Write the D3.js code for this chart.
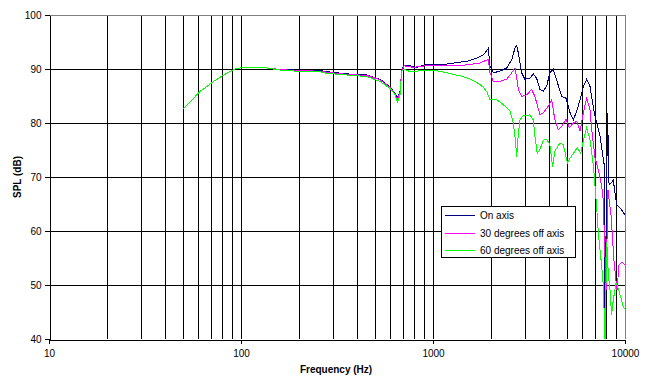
<!DOCTYPE html>
<html>
<head>
<meta charset="utf-8">
<script src="https://cdn.jsdelivr.net/npm/d3@7"></script>
<style>
  body { margin: 0; background: #fff; }
  svg text { font-family: "Liberation Sans Narrow", "Arial Narrow", "Liberation Sans", Arial, sans-serif; font-size: 10px; fill: #000; }
  .title { font-family: "Liberation Sans", Arial, sans-serif !important; font-weight: bold; }
</style>
</head>
<body>
<div id="viz"></div>
<script>
/*** data ***/
const seriesNames = ["On axis", "30 degrees off axis", "60 degrees off axis"];
const seriesColors = ["#000080", "#ff00ff", "#00ff00"];

const onAxisHz = [50, 53, 61, 72, 84, 93, 99, 136, 160, 195, 258, 280, 355, 452, 530, 597, 634, 652, 673, 687, 706, 759, 822, 890, 964, 1178, 1328, 1497, 1690, 1829, 1942, 1982, 2061, 2234, 2421, 2570, 2673, 2729, 2782, 2896, 3011, 3199, 3328, 3466, 3607, 3751, 3906, 4063, 4227, 4402, 4679, 4929, 5175, 5385, 5604, 5832, 6068, 6314, 6570, 6787, 6983, 7413, 7776, 7870, 8112, 8260, 8690, 9057, 9420, 10000];
const onAxisDb = [82.6, 83.5, 85.8, 87.7, 89.2, 90.0, 90.2, 90.2, 89.9, 89.8, 89.7, 89.5, 89.1, 88.9, 88.1, 86.7, 85.5, 84.6, 85.8, 89.8, 90.7, 90.6, 90.3, 90.7, 90.9, 90.9, 91.2, 91.4, 92.0, 92.6, 93.8, 90.5, 89.3, 89.6, 90.2, 91.7, 93.9, 94.3, 93.0, 89.3, 88.1, 88.3, 89.1, 88.3, 86.2, 85.9, 86.8, 89.3, 90.0, 88.0, 84.9, 84.6, 81.9, 80.6, 82.2, 84.3, 86.8, 88.1, 86.8, 83.7, 81.2, 77.5, 72.5, 44.5, 81.9, 68.5, 69.4, 64.8, 64.3, 63.0];

const offAxis30Hz = [50, 53, 61, 72, 84, 93, 99, 136, 160, 195, 258, 280, 355, 452, 530, 597, 634, 652, 673, 687, 706, 789, 964, 1178, 1437, 1758, 1942, 1982, 2061, 2234, 2421, 2570, 2673, 2729, 2782, 2896, 3073, 3264, 3396, 3607, 3751, 3981, 4146, 4314, 4493, 4679, 4929, 5132, 5385, 5604, 5832, 6068, 6314, 6570, 6706, 6983, 7264, 7565, 7705, 7966, 8150, 8458, 8769, 9080, 9310, 9640, 10000];
const offAxis30Db = [82.6, 83.5, 85.8, 87.7, 89.2, 90.0, 90.2, 90.2, 89.9, 89.7, 89.6, 89.4, 89.0, 88.8, 88.0, 86.6, 85.3, 84.3, 85.6, 89.7, 90.6, 90.3, 90.7, 90.7, 90.7, 91.1, 91.8, 89.3, 87.7, 87.7, 88.1, 89.3, 90.2, 88.3, 86.2, 84.9, 85.2, 86.2, 84.9, 81.5, 81.9, 83.1, 84.3, 80.6, 78.8, 79.4, 80.7, 79.1, 80.0, 80.3, 78.5, 81.9, 84.6, 82.5, 78.8, 73.5, 71.3, 68.2, 65.7, 49.1, 67.6, 63.0, 54.3, 49.0, 53.7, 54.3, 53.7];

const offAxis60Hz = [50, 53, 61, 72, 84, 93, 99, 136, 160, 195, 258, 280, 355, 452, 530, 597, 634, 652, 673, 687, 706, 759, 822, 890, 964, 1004, 1178, 1437, 1621, 1758, 1829, 1905, 1965, 1982, 2147, 2324, 2518, 2620, 2673, 2729, 2782, 2838, 2953, 3199, 3328, 3396, 3490, 3607, 3751, 3906, 4063, 4198, 4314, 4585, 4773, 5008, 5175, 5385, 5641, 5879, 6111, 6314, 6570, 6787, 6897, 7117, 7264, 7413, 7565, 7705, 7870, 8035, 8185, 8356, 8511, 8690, 8975, 9226, 9490, 9794, 10000];
const offAxis60Db = [82.6, 83.5, 85.8, 87.7, 89.2, 90.0, 90.2, 90.2, 89.8, 89.6, 89.5, 89.2, 88.9, 88.6, 87.7, 86.4, 85.3, 83.8, 85.2, 89.5, 90.0, 89.5, 89.6, 89.8, 89.8, 89.8, 89.3, 88.6, 87.9, 87.1, 86.6, 85.8, 84.6, 84.3, 84.3, 83.4, 82.2, 80.0, 77.5, 73.8, 78.1, 80.6, 81.4, 81.5, 80.6, 77.5, 74.4, 75.1, 76.8, 77.0, 76.0, 71.9, 74.8, 76.3, 76.0, 72.6, 73.5, 74.4, 75.4, 74.4, 77.2, 79.1, 76.9, 73.2, 70.7, 64.5, 59.6, 56.5, 53.4, 50.0, 40.0, 58.0, 52.0, 49.0, 44.4, 47.2, 50.4, 49.4, 47.8, 46.0, 45.5];

const yTicks = [40, 50, 60, 70, 80, 90, 100];
const xTicks = [10, 100, 1000, 10000];

/*** chart ***/
const width = 648, height = 388;
const margin = { top: 15, right: 23, bottom: 49, left: 49 };

const svg = d3.select("#viz")
  .append("svg")
  .attr("width", width)
  .attr("height", height);

const x = d3.scaleLog()
  .domain([10, 10000])
  .range([margin.left, width - margin.right]);

const y = d3.scaleLinear()
  .domain([40, 100])
  .range([height - margin.bottom, margin.top]);

const px = v => Math.round(v) + 0.5;

// plot area
svg.append("rect")
  .attr("x", x(10)).attr("y", y(100))
  .attr("width", x(10000) - x(10)).attr("height", y(40) - y(100))
  .attr("fill", "#fff");

// vertical grid (log minor ticks)
const grid = svg.append("g").attr("shape-rendering", "crispEdges");
grid.selectAll(".vg")
  .data(x.ticks().filter(d => d > 10 && d < 10000))
  .join("line")
  .attr("x1", d => px(x(d))).attr("x2", d => px(x(d)))
  .attr("y1", y(100)).attr("y2", y(40))
  .attr("stroke", "#000");

grid.selectAll(".hg")
  .data(yTicks.filter(d => d > 40 && d < 100))
  .join("line")
  .attr("x1", x(10)).attr("x2", x(10000))
  .attr("y1", d => px(y(d))).attr("y2", d => px(y(d)))
  .attr("stroke", "#000");

// gray top / right border
grid.append("path")
  .attr("d", `M${x(10)},${px(y(100))}H${px(x(10000))}V${y(40)}`)
  .attr("fill", "none")
  .attr("stroke", "#808080");

// curves
const line = d3.line()
  .x(d => x(d[0]))
  .y(d => y(d[1]));

const series = [
  d3.zip(onAxisHz, onAxisDb),
  d3.zip(offAxis30Hz, offAxis30Db),
  d3.zip(offAxis60Hz, offAxis60Db)
];

svg.append("g")
  .selectAll("path")
  .data(series)
  .join("path")
  .attr("d", line)
  .attr("fill", "none")
  .attr("stroke", (d, i) => seriesColors[i])
  .attr("stroke-width", 1)
  .attr("shape-rendering", "crispEdges");

// axes
const yAxis = svg.append("g")
  .attr("transform", `translate(${px(x(10))},0)`)
  .attr("shape-rendering", "crispEdges")
  .call(d3.axisLeft(y).tickValues(yTicks).tickSize(5).tickSizeOuter(0).tickPadding(3));

const xAxis = svg.append("g")
  .attr("transform", `translate(0,${px(y(40))})`)
  .attr("shape-rendering", "crispEdges")
  .call(d3.axisBottom(x).tickValues(xTicks).tickFormat(d3.format("d")).tickSize(4).tickSizeOuter(0).tickPadding(6));

svg.selectAll(".domain, .tick line").attr("stroke", "#000");
svg.selectAll(".tick text").attr("font-size", null).attr("font-family", null);

// axis titles
svg.append("text")
  .attr("class", "title")
  .attr("x", 336).attr("y", 373)
  .attr("text-anchor", "middle")
  .text("Frequency (Hz)");

svg.append("text")
  .attr("class", "title")
  .attr("transform", `translate(21,${(y(40) + y(100)) / 2}) rotate(-90)`)
  .attr("text-anchor", "middle")
  .text("SPL (dB)");

// legend
const legend = svg.append("g").attr("transform", "translate(441,206)");
legend.append("rect")
  .attr("x", 0.5).attr("y", 0.5)
  .attr("width", 134).attr("height", 51)
  .attr("fill", "#fff")
  .attr("stroke", "#000")
  .attr("shape-rendering", "crispEdges");

const item = legend.selectAll(".item")
  .data(seriesNames)
  .join("g")
  .attr("transform", (d, i) => `translate(0,${9 + i * 17.5})`);

item.append("line")
  .attr("x1", 4).attr("x2", 34)
  .attr("y1", 0.5).attr("y2", 0.5)
  .attr("stroke", (d, i) => seriesColors[i])
  .attr("shape-rendering", "crispEdges");

item.append("text")
  .attr("x", 39).attr("y", 4)
  .text(d => d);
</script>
</body>
</html>
